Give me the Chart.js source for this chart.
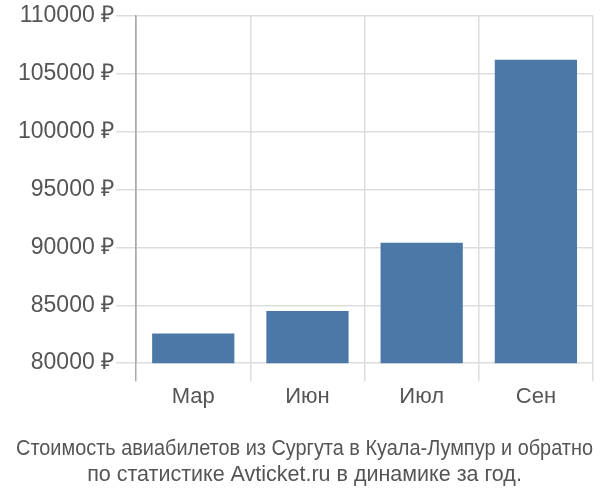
<!DOCTYPE html>
<html>
<head>
<meta charset="utf-8">
<script src="https://cdn.jsdelivr.net/npm/chart.js@4"></script>
<style>
  html, body { margin: 0; padding: 0; background: #fff; }
  #wrap { width: 600px; height: 500px; }
</style>
</head>
<body>
<div id="wrap"><canvas id="chart"></canvas></div>
<script>
// Average ticket price Surgut -> Kuala Lumpur by month
const MONTHS = ['Мар', 'Июн', 'Июл', 'Сен'];
const PRICES = [82550, 84500, 90400, 106200];
const Y_MIN = 80000;
const Y_MAX = 110000;
const Y_STEP = 5000;
const TITLE_LINES = [
    'Стоимость авиабилетов из Сургута в Куала-Лумпур и обратно',
    'по статистике Avticket.ru в динамике за год.'
];

const FONT = '"Liberation Sans", Arial, sans-serif';

new Chart(document.getElementById('chart').getContext('2d'), {
    type: 'bar',
    data: {
        labels: MONTHS,
        datasets: [{
            data: PRICES,
            backgroundColor: '#4b78a6',
            borderWidth: 0,
            barPercentage: 0.72,
            categoryPercentage: 1.0
        }]
    },
    options: {
        responsive: true,
        maintainAspectRatio: false,
        animation: false,
        layout: { padding: { top: 4, right: 7, left: 16, bottom: 12 } },
        plugins: {
            legend: { display: false },
            tooltip: { enabled: false },
            title: {
                display: true,
                position: 'bottom',
                text: TITLE_LINES,
                color: '#555',
                font: { family: FONT, size: 21.5, weight: 'normal', lineHeight: 1.22 },
                padding: { top: 22, bottom: 0 }
            }
        },
        scales: {
            x: {
                grid: {
                    offset: true,
                    color: (c) => c.index === 0 ? '#aaa' : '#ddd',
                    tickLength: 18,
                    lineWidth: 1.5
                },
                border: { display: false },
                ticks: {
                    color: '#555',
                    font: { family: FONT, size: 22 },
                    padding: 3
                }
            },
            y: {
                min: Y_MIN,
                max: Y_MAX,
                grid: { color: '#ddd', tickLength: 20, lineWidth: 1.5 },
                border: { color: '#aaa', width: 1.5 },
                ticks: {
                    stepSize: Y_STEP,
                    color: '#555',
                    font: { family: FONT, size: 23 },
                    padding: 2,
                    callback: (v) => v + ' ₽'
                }
            }
        }
    }
});
</script>
</body>
</html>
